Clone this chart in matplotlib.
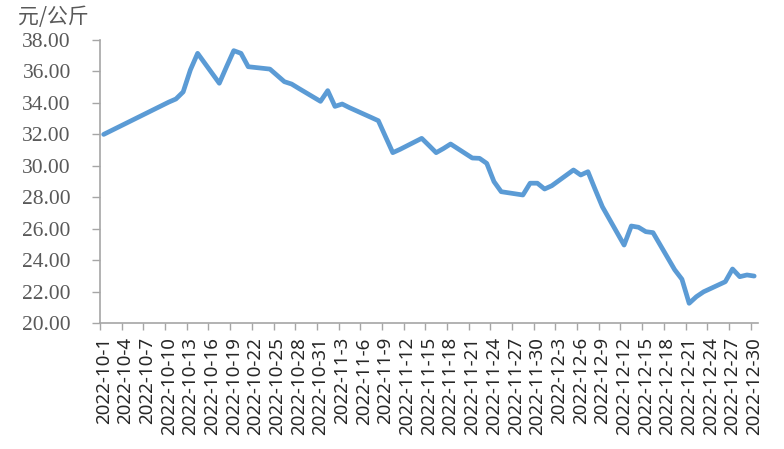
import matplotlib
matplotlib.use("Agg")
import matplotlib.pyplot as plt
import pandas as pd

# price data (元/公斤), trading days only
dates = ["2022-10-01", "2022-10-10", "2022-10-11", "2022-10-12", "2022-10-13", "2022-10-14",
         "2022-10-17", "2022-10-18", "2022-10-19", "2022-10-20", "2022-10-21",
         "2022-10-24", "2022-10-25", "2022-10-26", "2022-10-27", "2022-10-28",
         "2022-10-31", "2022-11-01", "2022-11-02", "2022-11-03", "2022-11-04",
         "2022-11-07", "2022-11-08", "2022-11-09", "2022-11-10", "2022-11-11",
         "2022-11-14", "2022-11-15", "2022-11-16", "2022-11-17", "2022-11-18",
         "2022-11-21", "2022-11-22", "2022-11-23", "2022-11-24", "2022-11-25",
         "2022-11-28", "2022-11-29", "2022-11-30", "2022-12-01", "2022-12-02",
         "2022-12-05", "2022-12-06", "2022-12-07", "2022-12-08", "2022-12-09",
         "2022-12-12", "2022-12-13", "2022-12-14", "2022-12-15", "2022-12-16",
         "2022-12-19", "2022-12-20", "2022-12-21", "2022-12-22", "2022-12-23",
         "2022-12-26", "2022-12-27", "2022-12-28", "2022-12-29", "2022-12-30"]
prices = [32.00, 34.05, 34.25, 34.70, 36.10, 37.15,
          35.25, 36.30, 37.32, 37.15, 36.30,
          36.15, 35.75, 35.35, 35.20, 34.92,
          34.10, 34.78, 33.78, 33.93, 33.70,
          33.08, 32.87, 31.85, 30.84, 31.05,
          31.75, 31.30, 30.84, 31.10, 31.39,
          30.50, 30.48, 30.16, 29.00, 28.36,
          28.15, 28.90, 28.90, 28.53, 28.74,
          29.74, 29.42, 29.63, 28.50, 27.40,
          24.97, 26.18, 26.10, 25.82, 25.76,
          23.40, 22.80, 21.27, 21.69, 22.00,
          22.64, 23.45, 22.96, 23.07, 23.00]

start = pd.Timestamp("2022-10-01")
days = pd.date_range("2022-10-01", "2022-12-30", freq="D")
label_days = days[::3]
tick_labels = [f"{d.year}-{d.month}-{d.day}" for d in label_days]
x = [(pd.Timestamp(d) - start).days for d in dates]

plt.rcParams['font.family'] = ['Noto Sans CJK SC', 'DejaVu Sans']

fig = plt.figure(figsize=(7.84, 4.49), dpi=100)
ax = fig.add_axes([0.1276, 0.28, 0.839, 0.631])

ax.plot(x, prices, color="#5b9bd5", lw=3.4, solid_joinstyle="round", solid_capstyle="round")

ax.set_ylim(20, 38)
ax.set_xlim(-0.5, len(days) - 0.5)
ax.set_yticks(range(20, 39, 2))
ax.set_yticklabels([f"{v:.2f}" for v in range(20, 39, 2)],
                   family="Liberation Serif", fontsize=15.5, color="#595959")

# tick marks at slot borders, labels at slot centres
ax.set_xticks([(d - start).days - 0.5 for d in label_days])
ax.set_xticklabels([])
ax.set_xticks([(d - start).days for d in label_days], minor=True)
ax.set_xticklabels(tick_labels, minor=True, rotation=90, family="Noto Sans",
                   fontsize=13.5, color="#262626", va="top", ha="center")
ax.tick_params(axis="x", which="minor", length=0, pad=10)
ax.tick_params(axis="x", which="major", length=5, color="#a6a6a6", width=1)
ax.tick_params(axis="y", length=6, color="#a6a6a6", width=1, pad=15)

for s in ["top", "right"]:
    ax.spines[s].set_visible(False)
for s in ["left", "bottom"]:
    ax.spines[s].set_color("#a6a6a6")
    ax.spines[s].set_linewidth(1.2)

fig.text(0.023, 0.963, "元/公斤", fontsize=15, color="#595959", va="center", ha="left")

fig.savefig("out.png", dpi=100)
